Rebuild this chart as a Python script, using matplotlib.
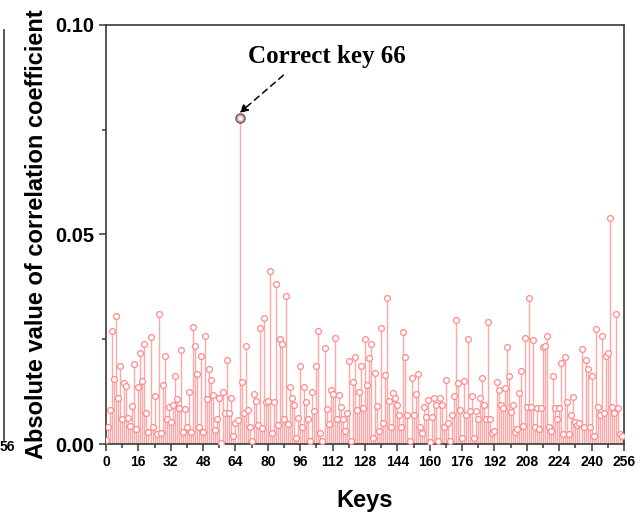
import numpy as np
import matplotlib.pyplot as plt
from matplotlib.ticker import MultipleLocator
from matplotlib.lines import Line2D

# |correlation| for each key guess 0..255
corr_0_64 = [
    0.001, 0.004, 0.008, 0.027, 0.0155, 0.0306, 0.011, 0.0187, 0.006, 0.0145,
    0.0138, 0.0063, 0.0043, 0.009, 0.019, 0.0036, 0.0137, 0.0217, 0.015, 0.0239,
    0.0074, 0.0029, 0.0256, 0.0041, 0.0115, 0.0024, 0.031, 0.0027, 0.014, 0.021,
    0.006, 0.0089, 0.0053, 0.0093, 0.0162, 0.0107, 0.0085, 0.0224, 0.0029, 0.0083,
    0.004, 0.0125, 0.0029, 0.028, 0.0234, 0.0166, 0.0041, 0.021, 0.0029, 0.0258,
    0.0107, 0.0178, 0.0153, 0.0117, 0.0033, 0.006, 0.011, 0.0002, 0.0125, 0.0074,
    0.020, 0.0074, 0.011, 0.002, 0.005,
]
corr_65_130 = [
    0.0057, 0.0778, 0.0147, 0.0074, 0.0235, 0.0081, 0.0041, 0.0006, 0.0119, 0.0103,
    0.0045, 0.0278, 0.0038, 0.0301, 0.0101, 0.0103, 0.0413, 0.0027, 0.0101, 0.0381,
    0.0045, 0.025, 0.0238, 0.006, 0.0354, 0.0047, 0.0137, 0.0109, 0.0093, 0.0015,
    0.0061, 0.0186, 0.004, 0.0137, 0.0101, 0.006, 0.0007, 0.0125, 0.0078, 0.0185,
    0.027, 0.0027, 0.0006, 0.023, 0.0083, 0.0048, 0.013, 0.0119, 0.0252, 0.006,
    0.0117, 0.0089, 0.006, 0.003, 0.0073, 0.0198, 0.0007, 0.0147, 0.0208, 0.0082,
    0.0125, 0.0186, 0.0085, 0.025, 0.014, 0.0206,
]
corr_131_255 = [
    0.0238, 0.0014, 0.0169, 0.009, 0.003, 0.0278, 0.0049, 0.0165, 0.0348, 0.0103,
    0.0041, 0.0121, 0.0109, 0.0093, 0.0069, 0.004, 0.0268, 0.0208, 0.007, 0.0008,
    0.0158, 0.007, 0.0119, 0.0166, 0.004, 0.0027, 0.0089, 0.0065, 0.0105, 0.0005,
    0.0065, 0.0109, 0.0093, 0.0007, 0.0109, 0.0093, 0.004, 0.0153, 0.005, 0.0007,
    0.007, 0.0115, 0.0297, 0.0145, 0.0081, 0.0014, 0.015, 0.007, 0.025, 0.0078,
    0.0115, 0.0014, 0.0078, 0.006, 0.0109, 0.0158, 0.0093, 0.006, 0.0292, 0.006,
    0.0027, 0.003, 0.0149, 0.013, 0.0093, 0.0087, 0.0134, 0.0232, 0.0162, 0.0077,
    0.0093, 0.0028, 0.0036, 0.0122, 0.0174, 0.0043, 0.0254, 0.0089, 0.0348, 0.0089,
    0.0248, 0.004, 0.0085, 0.0036, 0.0085, 0.0232, 0.0234, 0.0258, 0.004, 0.003,
    0.0163, 0.0085, 0.006, 0.0085, 0.0194, 0.0025, 0.0208, 0.0101, 0.0025, 0.0069,
    0.0113, 0.0052, 0.0045, 0.005, 0.0226, 0.004, 0.02, 0.018, 0.004, 0.0162,
    0.002, 0.0274, 0.0089, 0.007, 0.0258, 0.0073, 0.021, 0.0217, 0.0539, 0.0089,
    0.0075, 0.031, 0.0085, 0.0025, 0.002,
]
corr = np.array(corr_0_64 + corr_65_130 + corr_131_255)
keys = np.arange(len(corr))
correct_key = 66

stem_color = '#ffa8a8'
marker_edge = '#ff8c8c'
axis_color = '#3a3a3a'

fig = plt.figure(figsize=(6.4, 5.13), dpi=100)
ax = fig.add_axes([0.1656, 0.1345, 0.8094, 0.8168])

ax.vlines(keys, 0, corr, color=stem_color, lw=1.0, zorder=2)
ax.plot(keys, corr, 'o', ms=4.2, mfc='white', mec=marker_edge, mew=0.9, zorder=3)
# highlight the correct key
ax.plot(correct_key, corr[correct_key], 'o', ms=6.5, mfc='none', mec='#555555', mew=1.0, zorder=4)

ax.annotate('Correct key 66', xy=(correct_key, corr[correct_key] + 0.0012),
            xytext=(109, 0.0925), ha='center', va='center',
            fontsize=18, fontweight='bold', family='Liberation Serif',
            arrowprops=dict(arrowstyle='-|>', linestyle=(0, (4, 3)), color='black',
                            lw=1.1, mutation_scale=12, relpos=(0.28, 0),
                            shrinkA=5, shrinkB=0))

ax.set_xlim(0, 256)
ax.set_ylim(0, 0.10)
ax.xaxis.set_major_locator(MultipleLocator(16))
ax.xaxis.set_minor_locator(MultipleLocator(8))
ax.yaxis.set_major_locator(MultipleLocator(0.05))
ax.yaxis.set_minor_locator(MultipleLocator(0.025))
ax.yaxis.set_major_formatter(plt.FormatStrFormatter('%.2f'))

for s in ax.spines.values():
    s.set_color(axis_color)
    s.set_linewidth(1.2)
ax.tick_params(which='both', direction='out', color=axis_color, width=1.1)
ax.tick_params(which='major', length=5)
ax.tick_params(which='minor', length=3)
ax.tick_params(axis='x', which='both', top=False)
ax.tick_params(axis='y', which='both', right=False)
ax.tick_params(axis='x', pad=3)

for lab in ax.get_xticklabels():
    lab.set_family(['Liberation Sans Narrow', 'Liberation Sans'])
    lab.set_fontweight('bold')
    lab.set_fontsize(10)
for lab in ax.get_yticklabels():
    lab.set_family('Liberation Sans')
    lab.set_fontweight('bold')
    lab.set_fontsize(14.5)

ax.set_xlabel('Keys', fontsize=17, fontweight='bold', family='Liberation Sans', labelpad=14)
ax.set_ylabel('Absolute value of correlation coefficient', fontsize=17,
              fontweight='bold', family='Liberation Sans', labelpad=5)

# edge of the neighbouring panel
fig.add_artist(Line2D([4 / 640, 4 / 640], [1 - 30 / 513, 1 - 440 / 513],
                      color=axis_color, lw=1.2, transform=fig.transFigure))
fig.text(0, 1 - 440 / 513, '56', ha='left', va='top', fontsize=10,
         fontweight='bold', family=['Liberation Sans Narrow', 'Liberation Sans'])

fig.savefig('out.png', dpi=100)
